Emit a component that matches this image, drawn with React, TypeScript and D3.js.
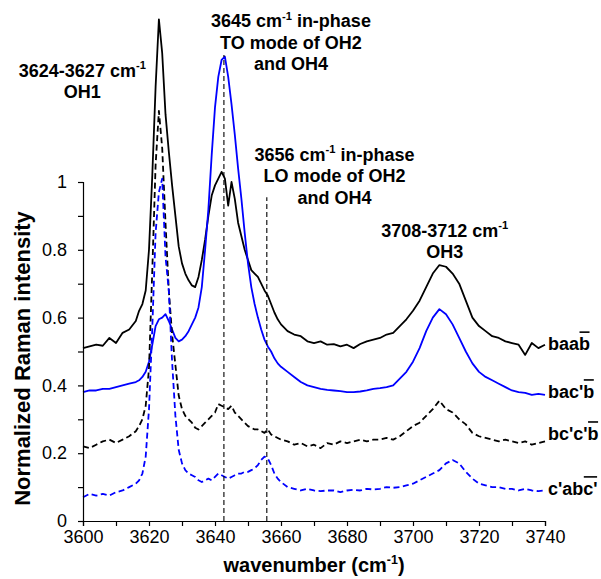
import * as d3 from "d3"
import { useEffect, useRef } from "react"

// wavenumber grid (cm-1), finer around the OH1 / OH2-OH4 bands
const wavenumbers = [
	3600, 3602, 3604, 3606, 3608, 3610, 3612, 3614,
	3616, 3617, 3618, 3619, 3620, 3621, 3622, 3623, 3624, 3625, 3626, 3627, 3628, 3629, 3630,
	3631, 3632, 3633, 3634, 3635, 3636, 3637, 3638, 3639, 3640, 3641, 3642, 3643, 3644, 3645,
	3646, 3647, 3648, 3649, 3650, 3651, 3652, 3653, 3654, 3655, 3656, 3657, 3658, 3659, 3660,
	3662, 3664, 3666, 3668, 3670, 3672, 3674, 3676, 3678, 3680, 3682, 3684, 3686, 3688, 3690,
	3692, 3694, 3696, 3698, 3700, 3702, 3704, 3706, 3708, 3710, 3712, 3714, 3716, 3718, 3720,
	3722, 3724, 3726, 3728, 3730, 3732, 3734, 3736, 3738, 3740
]

// baab (black solid)
const baab = [
	0.51, 0.515, 0.52, 0.517, 0.54, 0.525, 0.555, 0.565,
	0.59, 0.62, 0.64, 0.68, 0.80, 1.02, 1.28, 1.48, 1.38, 1.20, 1.09, 0.99, 0.90, 0.81, 0.76,
	0.73, 0.71, 0.695, 0.69, 0.72, 0.77, 0.83, 0.90, 0.96, 0.99, 1.01, 1.03, 1.01, 0.93, 1.00,
	0.95, 0.88, 0.84, 0.80, 0.77, 0.74, 0.73, 0.72, 0.70, 0.68, 0.665, 0.64, 0.615, 0.595, 0.58,
	0.56, 0.55, 0.545, 0.53, 0.525, 0.53, 0.52, 0.522, 0.515, 0.52, 0.51, 0.522, 0.53, 0.535, 0.54,
	0.55, 0.555, 0.575, 0.595, 0.62, 0.65, 0.69, 0.73, 0.755, 0.75, 0.73, 0.70, 0.65, 0.60, 0.575,
	0.56, 0.545, 0.54, 0.53, 0.525, 0.52, 0.49, 0.525, 0.51, 0.52
]

// bac'b (blue solid)
const bacb = [
	0.38, 0.385, 0.385, 0.39, 0.39, 0.395, 0.40, 0.405,
	0.41, 0.415, 0.425, 0.44, 0.47, 0.52, 0.575, 0.595, 0.60, 0.61, 0.59, 0.565, 0.54, 0.53, 0.535,
	0.545, 0.56, 0.58, 0.60, 0.63, 0.69, 0.80, 0.92, 1.08, 1.22, 1.31, 1.36, 1.37, 1.31, 1.23,
	1.14, 1.04, 0.95, 0.85, 0.76, 0.69, 0.64, 0.60, 0.565, 0.535, 0.515, 0.50, 0.48, 0.465, 0.455,
	0.44, 0.425, 0.41, 0.40, 0.395, 0.39, 0.387, 0.385, 0.383, 0.38, 0.38, 0.382, 0.385, 0.39, 0.392,
	0.395, 0.40, 0.42, 0.44, 0.47, 0.51, 0.56, 0.60, 0.625, 0.61, 0.58, 0.54, 0.50, 0.465, 0.44,
	0.425, 0.415, 0.405, 0.395, 0.385, 0.38, 0.378, 0.372, 0.375, 0.372
]

// bc'c'b (black dashed)
const bccb = [
	0.22, 0.215, 0.225, 0.235, 0.24, 0.23, 0.24, 0.25,
	0.265, 0.28, 0.30, 0.34, 0.45, 0.74, 1.05, 1.21, 1.10, 0.88, 0.68, 0.55, 0.46, 0.37, 0.33,
	0.31, 0.30, 0.29, 0.275, 0.27, 0.28, 0.29, 0.30, 0.31, 0.32, 0.345, 0.34, 0.335, 0.33, 0.34,
	0.32, 0.31, 0.30, 0.29, 0.28, 0.275, 0.27, 0.27, 0.265, 0.26, 0.27, 0.255, 0.25, 0.245, 0.24,
	0.235, 0.225, 0.23, 0.22, 0.225, 0.215, 0.23, 0.225, 0.235, 0.23, 0.235, 0.24, 0.235, 0.24, 0.24,
	0.245, 0.24, 0.25, 0.265, 0.28, 0.29, 0.31, 0.33, 0.355, 0.33, 0.32, 0.30, 0.285, 0.26, 0.25,
	0.245, 0.24, 0.235, 0.24, 0.235, 0.23, 0.235, 0.225, 0.23, 0.235
]

// c'abc' (blue dashed)
const cabc = [
	0.07, 0.08, 0.075, 0.08, 0.075, 0.085, 0.09, 0.10,
	0.11, 0.12, 0.14, 0.19, 0.33, 0.57, 0.85, 0.97, 1.01, 0.78, 0.68, 0.47, 0.31, 0.21, 0.17,
	0.15, 0.14, 0.135, 0.13, 0.12, 0.115, 0.12, 0.125, 0.12, 0.13, 0.14, 0.135, 0.13, 0.125, 0.13,
	0.135, 0.14, 0.14, 0.145, 0.145, 0.15, 0.155, 0.165, 0.18, 0.19, 0.185, 0.165, 0.14, 0.125, 0.115,
	0.10, 0.095, 0.09, 0.095, 0.09, 0.088, 0.09, 0.09, 0.085, 0.09, 0.092, 0.09, 0.095, 0.093, 0.095,
	0.10, 0.098, 0.10, 0.105, 0.11, 0.12, 0.13, 0.14, 0.15, 0.17, 0.18, 0.17, 0.145, 0.125, 0.11,
	0.105, 0.10, 0.10, 0.095, 0.095, 0.09, 0.095, 0.09, 0.088, 0.09
]

const seriesNames = ["baab", "bac'b", "bc'c'b", "c'abc'"]
const seriesValues = [baab, bacb, bccb, cabc]
const seriesColors = ["#000000", "#0000ff", "#000000", "#0000ff"]
const seriesDashed = [false, false, true, true]
// legend label heights (in intensity units) and how many trailing chars carry the bar
const labelLevels = [0.504, 0.363, 0.239, 0.077]
const labelBarChars = [1, 1, 1, 2]

const xTicks = [3600, 3610, 3620, 3630, 3640, 3650, 3660, 3670, 3680, 3690, 3700, 3710, 3720, 3730, 3740]
const yTicks = [0, 0.1, 0.2, 0.3, 0.4, 0.5, 0.6, 0.7, 0.8, 0.9, 1]

// vertical dashed markers: position and top (intensity units)
const markerX = [3642.7, 3655.7]
const markerTop = [1.375, 0.955]

// annotations: lines use ^..^ for superscripts
const noteLines = [
	["3624-3627 cm^-1^", "OH1"],
	["3645 cm^-1^ in-phase", "TO mode of OH2", "and OH4"],
	["3656 cm^-1^ in-phase", "LO mode of OH2", "and OH4"],
	["3708-3712 cm^-1^", "OH3"]
]
const noteX = [3599.8, 3663, 3676.2, 3709.6]
const noteY = [1.311, 1.457, 1.062, 0.838]

export default function App() {

	const svgRef = useRef(null)

	useEffect(() => {
		const svg = d3.select(svgRef.current)
		svg.selectAll('*').remove()

		const font = '"Liberation Sans", Arial, Helvetica, sans-serif'

		const x = d3.scaleLinear().domain([3600, 3740]).range([83, 545])
		const y = d3.scaleLinear().domain([0, 1]).range([521, 182])

		// spectra
		const line = d3.line()
			.x((d, i) => x(wavenumbers[i]))
			.y(d => y(d))

		seriesValues.forEach((vals, k) => {
			svg.append('path')
				.attr('d', line(vals))
				.attr('fill', 'none')
				.attr('stroke', seriesColors[k])
				.attr('stroke-width', 1.8)
				.attr('stroke-linejoin', 'round')
				.attr('stroke-dasharray', seriesDashed[k] ? '6,3.5' : null)
		})

		// vertical markers
		markerX.forEach((mx, i) => {
			svg.append('line')
				.attr('x1', x(mx)).attr('x2', x(mx))
				.attr('y1', y(0)).attr('y2', y(markerTop[i]))
				.attr('stroke', 'black')
				.attr('stroke-width', 1.1)
				.attr('stroke-dasharray', '5,3')
		})

		// X axis
		const xAxis = d3.axisBottom(x)
			.tickValues(xTicks)
			.tickSize(5)
			.tickSizeOuter(5)
			.tickPadding(4)
			.tickFormat(d => (d % 20 === 0 ? String(d) : ''))
		const gx = svg.append('g')
			.attr('transform', `translate(0, ${y(0)})`)
			.call(xAxis)
		gx.selectAll('text').attr('font-size', 18).attr('font-family', font).attr('fill', 'black')

		// Y axis
		const yAxis = d3.axisLeft(y)
			.tickValues(yTicks)
			.tickSize(5)
			.tickSizeOuter(5)
			.tickPadding(11)
			.tickFormat(d => (Math.round(d * 10) % 2 === 0 ? d3.format('')(+d.toFixed(1)) : ''))
		const gy = svg.append('g')
			.attr('transform', `translate(${x(3600)}, 0)`)
			.call(yAxis)
		gy.selectAll('text').attr('font-size', 18).attr('font-family', font).attr('fill', 'black')

		svg.selectAll('.domain, .tick line').attr('stroke', 'black').attr('stroke-width', 1.2)

		// helper: write a line containing ^sup^ parts
		const writeRich = (text, str, size) => {
			const parts = str.split('^')
			parts.forEach((p, i) => {
				if (p === '') return
				const sup = i % 2 === 1
				text.append('tspan')
					.attr('font-size', sup ? size * 0.62 : size)
					.attr('dy', sup ? -size * 0.42 : (i > 0 ? size * 0.42 : 0))
					.text(p)
			})
		}

		// annotations
		noteLines.forEach((lines, k) => {
			lines.forEach((ln, j) => {
				const t = svg.append('text')
					.attr('x', x(noteX[k]))
					.attr('y', y(noteY[k]) + j * 21.5)
					.attr('text-anchor', 'middle')
					.attr('font-family', font)
					.attr('font-weight', 'bold')
					.attr('font-size', 18)
					.style('white-space', 'pre')
				writeRich(t, ln, 18)
			})
		})

		// series labels with overbars
		seriesNames.forEach((name, k) => {
			const t = svg.append('text')
				.attr('x', x(3740) + 3)
				.attr('y', y(labelLevels[k]))
				.attr('font-family', font)
				.attr('font-weight', 'bold')
				.attr('font-size', 18)
				.text(name)
			const node = t.node()
			const n = name.length
			const x0 = node.getStartPositionOfChar(n - labelBarChars[k]).x
			const x1 = node.getEndPositionOfChar(n - 1).x
			svg.append('line')
				.attr('x1', x0 + 0.5).attr('x2', x1 - 0.5)
				.attr('y1', y(labelLevels[k]) - 18).attr('y2', y(labelLevels[k]) - 18)
				.attr('stroke', 'black')
				.attr('stroke-width', 1.6)
		})

		// axis titles
		const xt = svg.append('text')
			.attr('x', (x(3600) + x(3740)) / 2)
			.attr('y', 572)
			.attr('text-anchor', 'middle')
			.attr('font-family', font)
			.attr('font-weight', 'bold')
			.attr('font-size', 20)
			.style('white-space', 'pre')
		writeRich(xt, 'wavenumber (cm^-1^)', 20)

		svg.append('text')
			.attr('transform', `translate(30, ${(y(0) + y(1)) / 2 + 7}) rotate(-90)`)
			.attr('text-anchor', 'middle')
			.attr('font-family', font)
			.attr('font-weight', 'bold')
			.attr('font-size', 22)
			.text('Normalized Raman intensity')

	}, [])

	return <svg ref={svgRef} width={601} height={579} style={{ position: 'absolute', left: 0, top: 0, background: 'white' }} />
}
